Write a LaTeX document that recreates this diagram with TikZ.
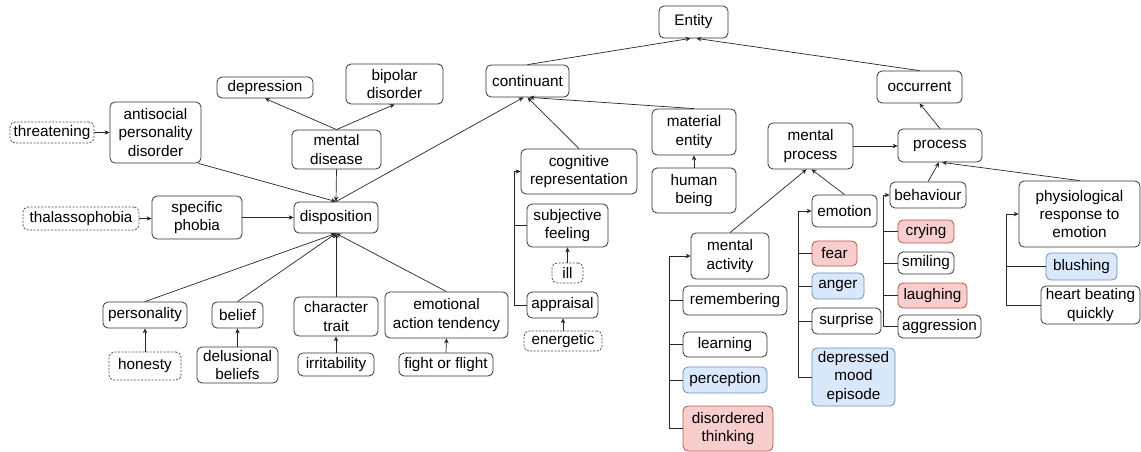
\documentclass[tikz,border=0pt]{standalone}
\usepackage{fontspec}
\setmainfont{Liberation Sans}
\usetikzlibrary{arrows.meta}
\definecolor{redfill}{HTML}{F8CECC}
\definecolor{redline}{HTML}{B85450}
\definecolor{bluefill}{HTML}{DAE8FC}
\definecolor{blueline}{HTML}{6C8EBF}
\tikzset{
  box/.style={draw=black!80, line width=0.8pt, rounded corners=5pt, fill=white, inner sep=0pt, align=center,
    font=\fontsize{15.3}{18.2}\selectfont},
  dbox/.style={box, dash pattern=on 2pt off 1.5pt, draw=black!70},
  rbox/.style={box, fill=redfill, draw=redline},
  bbox/.style={box, fill=bluefill, draw=blueline},
  arr/.style={-{Stealth[length=5pt,width=4.5pt]}, line width=0.7pt, draw=black!85},
  ln/.style={line width=0.7pt, draw=black!85}
}
\begin{document}
\begin{tikzpicture}[x=1pt,y=-1pt]
\useasboundingbox (0,0) rectangle (1141,452);
% nodes
\node[box, minimum width=69, minimum height=32] (ent) at (693.5,22) {Entity};
\node[box, minimum width=83, minimum height=32] (cont) at (527.5,81) {continuant};
\node[box, minimum width=85, minimum height=32] (occ) at (919.5,87) {occurrent};
\node[box, minimum width=96, minimum height=21] (dep) at (265,87.5) {depression};
\node[box, minimum width=97, minimum height=40] (bip) at (394.5,84) {bipolar\\disorder};
\node[box, minimum width=91, minimum height=61] (anti) at (155.5,132.5) {antisocial\\personality\\disorder};
\node[dbox, minimum width=84, minimum height=21] (thr) at (52,132.5) {threatening};
\node[box, minimum width=89, minimum height=39] (md) at (336.5,149.5) {mental\\disease};
\node[box, minimum width=84, minimum height=31] (disp) at (336,217.5) {disposition};
\node[box, minimum width=90, minimum height=43] (sph) at (197,217.5) {specific\\phobia};
\node[dbox, minimum width=116, minimum height=23] (thal) at (81,218.5) {thalassophobia};
\node[box, minimum width=84, minimum height=26] (pers) at (145,315) {personality};
\node[box, minimum width=51, minimum height=26] (bel) at (237.5,315) {belief};
\node[box, minimum width=84, minimum height=39] (ct) at (336,316.5) {character\\trait};
\node[box, minimum width=123, minimum height=46] (eat) at (446.5,315) {emotional\\action tendency};
\node[dbox, minimum width=72, minimum height=28] (hon) at (145,366) {honesty};
\node[box, minimum width=81, minimum height=36] (del) at (237.5,365) {delusional\\beliefs};
\node[box, minimum width=76, minimum height=23] (irr) at (336,364.5) {irritability};
\node[box, minimum width=94, minimum height=23] (fof) at (446,364.5) {fight or flight};
\node[box, minimum width=116, minimum height=45] (cog) at (579,171.5) {cognitive\\representation};
\node[box, minimum width=81, minimum height=43] (subj) at (567.5,225.5) {subjective\\feeling};
\node[dbox, minimum width=31, minimum height=20] (ill) at (567.5,273) {ill};
\node[box, minimum width=71, minimum height=26] (appr) at (562.5,305) {appraisal};
\node[dbox, minimum width=78, minimum height=20] (ener) at (563,341) {energetic};
\node[box, minimum width=84, minimum height=46] (mat) at (694,132) {material\\entity};
\node[box, minimum width=84, minimum height=45] (hum) at (694,190.5) {human\\being};
\node[box, minimum width=85, minimum height=46] (mp) at (810.5,146) {mental\\process};
\node[box, minimum width=84, minimum height=33] (proc) at (940,145.5) {process};
\node[box, minimum width=78, minimum height=46] (ma) at (730,256) {mental\\activity};
\node[box, minimum width=104, minimum height=29] (rem) at (735,300.5) {remembering};
\node[box, minimum width=84, minimum height=25] (lrn) at (725,344.5) {learning};
\node[bbox, minimum width=84, minimum height=26] (perc) at (725,380) {perception};
\node[rbox, minimum width=90, minimum height=45] (dis) at (728,428.5) {disordered\\thinking};
\node[box, minimum width=65, minimum height=32] (emo) at (844.5,211) {emotion};
\node[rbox, minimum width=45, minimum height=25] (fear) at (834.5,253.5) {fear};
\node[bbox, minimum width=52, minimum height=26] (ang) at (838,286) {anger};
\node[box, minimum width=69, minimum height=26] (surp) at (846.5,321) {surprise};
\node[bbox, minimum width=83, minimum height=58] (dme) at (853.5,377) {depressed\\mood\\episode};
\node[box, minimum width=76, minimum height=26] (beh) at (928,195) {behaviour};
\node[rbox, minimum width=56, minimum height=23] (cry) at (926,231.5) {crying};
\node[box, minimum width=56, minimum height=22] (smi) at (926,263) {smiling};
\node[rbox, minimum width=69, minimum height=25] (lau) at (932.5,295.5) {laughing};
\node[box, minimum width=83, minimum height=23] (agg) at (939.5,326.5) {aggression};
\node[box, minimum width=121, minimum height=66] (phy) at (1079.5,214) {physiological\\response to\\emotion};
\node[bbox, minimum width=71, minimum height=27] (blu) at (1081.5,266.5) {blushing};
\node[box, minimum width=99, minimum height=38] (hbq) at (1090.5,305) {heart beating\\quickly};
% connectors
\draw[arr] (cont.north) -- ([xshift=-3]ent.south);
\draw[arr] (occ.north) -- ([xshift=3]ent.south);
\draw[arr] (proc.north) -- (occ.south);
\draw[arr] (mp.east) -- (mp.east -| proc.west);
\draw[arr] (emo.north) -- ([xshift=1]mp.south);
\draw[arr] (ma.north) -- ([xshift=-4]mp.south);
\draw[arr] (beh.north) -- ([xshift=-1]proc.south);
\draw[arr] (phy.north) -- ([xshift=2]proc.south);
\draw[arr] (mat.north) -- ([xshift=2]cont.south);
\draw[arr] (cog.north) -- (cont.south);
\draw[arr] (disp.north) -- ([xshift=-4]cont.south);
\draw[arr] (hum.north) -- (mat.south);
\draw[arr] (md.north) -- (dep.south);
\draw[arr] (md.north) -- (bip.south);
\draw[arr] (md.south) -- (disp.north);
\draw[arr] ([xshift=-3]anti.south east) -- (disp.north);
\draw[arr] (thr.east) -- (anti.west);
\draw[arr] (thal.east) -- (thal.east -| sph.west);
\draw[arr] (sph.east) -- (disp.west);
\draw[arr] (pers.north) -- (disp.south);
\draw[arr] (bel.north) -- (disp.south);
\draw[arr] (ct.north) -- (disp.south);
\draw[arr] (eat.north) -- (disp.south);
\draw[arr] (hon.north) -- (pers.south);
\draw[arr] (del.north) -- (bel.south);
\draw[arr] (irr.north) -- (ct.south);
\draw[arr] (fof.north) -- (eat.south);
\draw[arr] (ill.north) -- (subj.south);
\draw[arr] (ener.north) -- (ener.north |- appr.south);
% trees
\draw[arr] (appr.west) -- ++(-12,0) |- (cog.west);
\draw[ln] (subj.west) -- ++(-12,0);
\draw[arr] (dis.west) -- ++(-13,0) |- (ma.west);
\draw[ln] (rem.west) -- ++(-13,0);
\draw[ln] (lrn.west) -- ++(-13,0);
\draw[ln] (perc.west) -- ++(-13,0);
\draw[arr] (dme.west) -- ++(-13,0) |- (emo.west);
\draw[ln] (fear.west) -- ++(-13,0);
\draw[ln] (ang.west) -- ++(-13,0);
\draw[ln] (surp.west) -- ++(-13,0);
\draw[arr] (agg.west) -- ++(-14,0) |- (beh.west);
\draw[ln] (cry.west) -- ++(-14,0);
\draw[ln] (smi.west) -- ++(-14,0);
\draw[ln] (lau.west) -- ++(-14,0);
\draw[arr] (hbq.west) -- ++(-34,0) |- (phy.west);
\draw[ln] (blu.west) -- ++(-39,0);
\end{tikzpicture}
\end{document}
